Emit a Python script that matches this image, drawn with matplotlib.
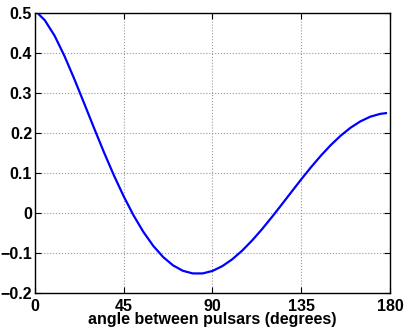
import matplotlib
matplotlib.use('Agg')
import matplotlib.pyplot as plt

# angle between pulsars (degrees) and correlation
angle = [2, 5, 10, 15, 20, 25, 30, 35, 40, 45, 50, 55, 60, 65, 70, 75, 80, 85,
         90, 95, 100, 105, 110, 115, 120, 125, 130, 135, 140, 145, 150, 155,
         160, 165, 170, 175, 178]
corr = [0.4962, 0.4816, 0.4425, 0.3917, 0.3341, 0.2732, 0.2116, 0.1514,
        0.0942, 0.0414, -0.0062, -0.0476, -0.0824, -0.1102, -0.1309, -0.1445,
        -0.1511, -0.1511, -0.1449, -0.1329, -0.1159, -0.0945, -0.0693, -0.0413,
        -0.0111, 0.0203, 0.0522, 0.0839, 0.1145, 0.1433, 0.1697, 0.1931,
        0.2130, 0.2289, 0.2406, 0.2476, 0.2496]

xticks = [0, 45, 90, 135, 180]
yticks = [-0.2, -0.1, 0, 0.1, 0.2, 0.3, 0.4, 0.5]
ytick_labels = ['\u22120.2', '\u22120.1', '0', '0.1', '0.2', '0.3', '0.4', '0.5']

plt.rcParams['font.family'] = ['Liberation Sans', 'DejaVu Sans']
plt.rcParams['font.weight'] = 'bold'

fig = plt.figure(figsize=(4.07, 3.32), dpi=100)
ax = fig.add_axes([0.086, 0.1175, 0.872, 0.8435])

ax.plot(angle, corr, color='#0000ff', linewidth=1.6)

ax.set_xlim(0, 180)
ax.set_ylim(-0.2, 0.5)
ax.set_xticks(xticks)
ax.set_xticklabels([str(t) for t in xticks])
ax.set_yticks(yticks)
ax.set_yticklabels(ytick_labels)

ax.grid(True, linestyle=':', color='#999999', linewidth=0.8)
ax.tick_params(direction='in', top=True, right=True, length=4, width=0.8,
               labelsize=11.5)
ax.tick_params(axis='x', pad=4)
ax.tick_params(axis='y', pad=2)
for s in ax.spines.values():
    s.set_linewidth(1.0)
    s.set_color('black')

ax.set_xlabel('angle between pulsars (degrees)', fontsize=11.5, fontweight='bold',
              labelpad=-1)

fig.savefig('out.png', dpi=100)
